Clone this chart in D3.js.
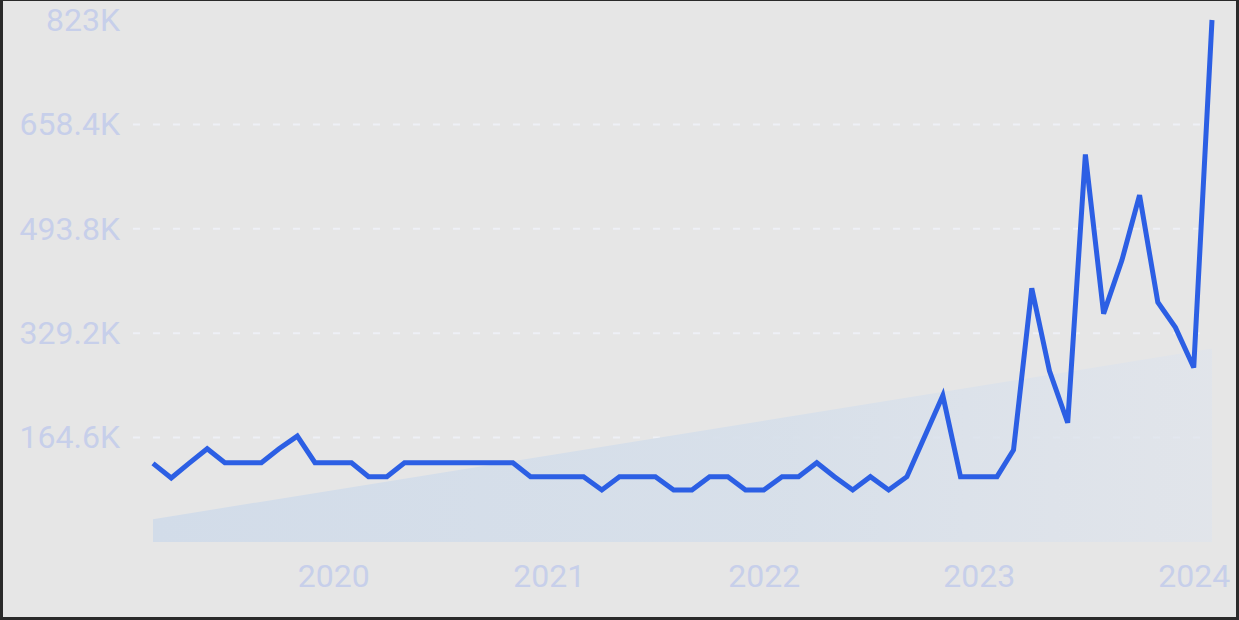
<!DOCTYPE html>
<html>
<head>
<meta charset="utf-8">
<script src="https://cdn.jsdelivr.net/npm/d3@7"></script>
<style>
  html, body { margin: 0; padding: 0; background: #2a2a2a; }
  #chart { display: block; }
  .axis text { font-family: Roboto, sans-serif; font-size: 32px; fill: #c7cfea; }
  .axis .domain { display: none; }
</style>
</head>
<body>
<svg id="chart"></svg>
<script>
// monthly values, Mar 2019 .. Feb 2024
var months = [
  "2019-03","2019-04","2019-05","2019-06","2019-07","2019-08","2019-09","2019-10","2019-11","2019-12",
  "2020-01","2020-02","2020-03","2020-04","2020-05","2020-06","2020-07","2020-08","2020-09","2020-10",
  "2020-11","2020-12","2021-01","2021-02","2021-03","2021-04","2021-05","2021-06","2021-07","2021-08",
  "2021-09","2021-10","2021-11","2021-12","2022-01","2022-02","2022-03","2022-04","2022-05","2022-06",
  "2022-07","2022-08","2022-09","2022-10","2022-11","2022-12","2023-01","2023-02","2023-03","2023-04",
  "2023-05","2023-06","2023-07","2023-08","2023-09","2023-10","2023-11","2023-12","2024-01","2024-02"
];
var values = [
  124000, 101000, 124000, 147000, 125000, 125000, 125000, 147000, 167000, 125000,
  125000, 125000, 103000, 103000, 125000, 125000, 125000, 125000, 125000, 125000,
  125000, 103000, 103000, 103000, 103000, 82000, 103000, 103000, 103000, 82000,
  82000, 103000, 103000, 82000, 82000, 103000, 103000, 125000, 103000, 82000,
  103000, 82000, 103000, 166000, 231000, 103000, 103000, 103000, 145000, 400000,
  270000, 188000, 611000, 360000, 444000, 547000, 378000, 338000, 275000, 823000
];
// trend band, start and end
var trendMonths = ["2019-03", "2024-02"];
var trendValues = [36000, 305000];

var yTicks = [164600, 329200, 493800, 658400, 823000];
var yTickLabels = ["164.6K", "329.2K", "493.8K", "658.4K", "823K"];

var W = 1239, H = 620;
var margin = {top: 20, right: 27, bottom: 78, left: 153};

var parse = d3.timeParse("%Y-%m");
var data = months.map(function(m, i) { return {date: parse(m), value: values[i]}; });
var trend = trendMonths.map(function(m, i) { return {date: parse(m), value: trendValues[i]}; });

var svg = d3.select("#chart").attr("width", W).attr("height", H);

// frame + panel
svg.append("rect").attr("width", W).attr("height", H).attr("fill", "#2a2a2a");
svg.append("rect")
    .attr("x", 3).attr("y", 1)
    .attr("width", W - 6).attr("height", H - 4)
    .attr("fill", "#e6e6e6");

var defs = svg.append("defs");
var grad = defs.append("linearGradient")
    .attr("id", "trendFill")
    .attr("x1", "0%").attr("x2", "100%")
    .attr("y1", "0%").attr("y2", "0%");
grad.append("stop").attr("offset", "0%").attr("stop-color", "#d2dce9").attr("stop-opacity", 1);
grad.append("stop").attr("offset", "60%").attr("stop-color", "#d6dfea").attr("stop-opacity", 0.9);
grad.append("stop").attr("offset", "100%").attr("stop-color", "#dfe4ec").attr("stop-opacity", 0.7);

var x = d3.scaleTime()
    .domain(d3.extent(data, function(d) { return d.date; }))
    .range([margin.left, W - margin.right]);
var y = d3.scaleLinear()
    .domain([0, 823000])
    .range([H - margin.bottom, margin.top]);

// grid lines
svg.append("g")
  .selectAll("line")
  .data(yTicks.slice(0, 4))
  .enter().append("line")
    .attr("x1", 133).attr("x2", W - margin.right)
    .attr("y1", function(d) { return y(d); })
    .attr("y2", function(d) { return y(d); })
    .attr("stroke", "#eef0f6")
    .attr("stroke-width", 2)
    .attr("stroke-dasharray", "7 13");

// trend band
var area = d3.area()
    .x(function(d) { return x(d.date); })
    .y0(y(0))
    .y1(function(d) { return y(d.value); });

svg.append("path")
    .datum(trend)
    .attr("fill", "url(#trendFill)")
    .attr("d", area);

// y axis
svg.append("g")
    .attr("class", "axis")
    .attr("transform", "translate(120,0)")
    .call(d3.axisLeft(y)
      .tickValues(yTicks)
      .tickSize(0)
      .tickPadding(0)
      .tickFormat(function(d, i) { return yTickLabels[i]; }));

// x axis
svg.append("g")
    .attr("class", "axis")
    .attr("transform", "translate(0," + (H - margin.bottom + 22) + ")")
    .call(d3.axisBottom(x)
      .ticks(d3.timeYear.every(1))
      .tickSize(0)
      .tickPadding(0)
      .tickFormat(d3.timeFormat("%Y")));

// line
var line = d3.line()
    .x(function(d) { return x(d.date); })
    .y(function(d) { return y(d.value); });

svg.append("path")
    .datum(data)
    .attr("fill", "none")
    .attr("stroke", "#2c5fe4")
    .attr("stroke-width", 5)
    .attr("stroke-linejoin", "miter")
    .attr("d", line);
</script>
</body>
</html>
